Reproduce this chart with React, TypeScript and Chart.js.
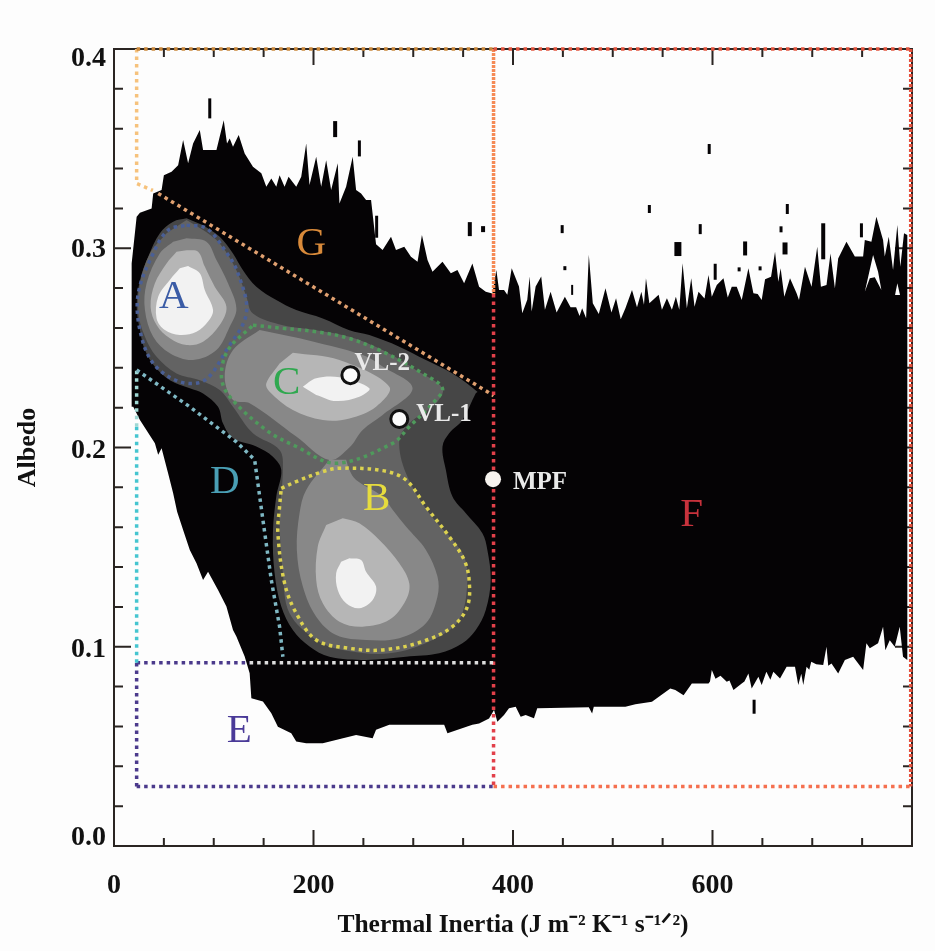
import React, { useEffect, useRef } from "react";
import { Chart, registerables } from "chart.js";

Chart.register(...registerables);

type P = [number, number];

const xTickStep = 50;
const yTickStep = 0.02;
const xTitle = "Thermal Inertia (J m⁻² K⁻¹ s⁻¹ᐟ²)";
const yTitle = "Albedo";

// Outer black envelope of the density plot (thermal inertia, albedo)
const envelopeTopLeft: P[] = [
  [17.7,.2205],[17.7,.2924],[22.7,.3158],[26,.3178],[37.7,.32],[39.3,.3275],[47.7,.3292],[50,.3367],[57.7,.3384],[64.3,.3417],
  [69.3,.3543],[74.3,.3426],[79.3,.3526],[86,.3593],[89.3,.3493],[102.7,.3493],[110,.3643],[113.3,.3526],[116,.3551],[119.3,.3509],
  [125,.3568],[131,.3476],[139.3,.3409],[147.7,.3376],[152.7,.3309],[157.7,.335],[162.7,.3309],[166,.3367],[171,.3309],[175,.3359],
  [182.7,.3309],[187.7,.3359],[192.7,.3526],[196,.3317],[202.7,.3459],[207.7,.3309],[212.7,.3442],[217.7,.3292],[224.3,.3426],[226,.3225],
  [232.7,.3309],[239.3,.3459],[242.7,.3292],[247.7,.3275],[252.7,.3242],[257.7,.3242],[262.7,.302],[269.3,.2991],[277.7,.3058],[282.7,.2991],
  [291,.3008],[297.7,.2957],[304.3,.2932],[308.7,.3066],[314.3,.2941],[319.3,.2882],[329.3,.2932],[337.7,.2874],[344.3,.2891],[351,.2824],
  [359.3,.2924],[366,.2807],[372.7,.2782],[379.3,.2773],
];
const envelopeTopMiddle: P[] = [
  [383.3,.2891],[386,.2791],[391,.2791],[394.3,.2766],[398.7,.29],[406,.2808],[409.3,.2674],[414.3,.2741],[416.7,.2858],[418.7,.2682],
  [422.7,.2808],[428.3,.2858],[432,.2691],[437.7,.2782],[443.7,.2677],[452,.2757],[457.7,.2704],[463.3,.2704],[466.7,.266],[469.3,.2699],
  [473.3,.2649],[476,.2967],[480,.2724],[486,.267],[492.7,.2799],[498.7,.2677],[503.3,.2749],[508,.2644],[512.7,.2699],[519.3,.2791],
  [524.3,.2704],[528.7,.2782],[531.3,.2716],[533.3,.2849],[536.7,.2724],[546,.2766],[549.3,.2691],[554.3,.2749],[559.3,.2691],[563.3,.2757],
  [566.7,.2691],[570,.2925],[574.3,.2699],[578.7,.2849],[582,.2707],
];
const envelopeTopRight: P[] = [
  [586,.2782],[592,.2748],[596,.2866],[599.3,.2757],[604.3,.2815],[611,.2849],[615.3,.2753],[619.3,.2807],[624.3,.2807],[629.3,.274],
  [636,.2899],[641,.2774],[645.3,.277],[649.3,.274],[652.7,.2844],[658.7,.2857],[662.7,.2983],[666,.2832],[668.3,.2899],[672,.2757],
  [677.7,.2849],[684.3,.2774],[686.7,.274],[692.7,.2907],[699.3,.2807],[705,.3008],[708.7,.2807],[714.3,.2815],[718.3,.2974],[722.7,.2799],
  [726,.2949],[734.3,.3033],[742.7,.2958],[751,.2958],[752.7,.3041],[759.3,.3033],[764.3,.3158],[771,.3041],[772.7,.2958],[776.7,.3058],
  [781,.2891],[785.3,.3117],[788.3,.2907],[792,.3075],[795.3,.3066],
];
const envelopeBottom: P[] = [
  [795.3,.0933],[791,.095],[787.7,.11],[782.7,.1],[777.7,.1033],[773.3,.0983],[771,.11],[766,.1017],[757.7,.0992],[754.3,.1017],
  [751,.0883],[741,.095],[732.7,.0933],[726,.0866],[719.3,.0916],[716,.0905],[714.3,.1],[711,.0908],[704,.0912],[699,.0925],
  [697,.0885],[694.3,.09],[691,.0808],[689,.0865],[686,.0808],[682.7,.09],[674.3,.09],[667.7,.0841],[661,.0875],[658,.0835],
  [654,.0875],[649.3,.0808],[646,.085],[639.3,.0791],[636,.0866],[632,.0825],[629.3,.0816],[621,.0783],[617,.083],[614.3,.0824],
  [608,.0855],[603,.084],[599.3,.0883],[597.5,.0825],[596,.0816],[579.3,.0816],[571,.0757],[562.7,.0783],[557.7,.0791],[539.3,.0724],
  [522.7,.0712],[512.7,.0699],[481,.0699],[479.3,.0665],[476,.0696],[424.3,.0691],[421,.0641],[412.7,.0657],[407.7,.0649],[402.7,.0699],
  [396,.0691],[391,.0657],[384.3,.0624],[381,.0682],[376,.064],[366,.0615],[359.3,.0608],[334.3,.0566],[331,.0608],[306,.0608],
  [276,.0608],[262.7,.0583],[259.3,.0541],[242.7,.0557],[209.3,.0516],[192.7,.0516],[182.7,.0524],[177.7,.0566],[164.3,.0599],[157.7,.0666],
  [149.3,.0725],[137.7,.0741],[136,.0867],[131,.0951],[122.7,.1051],[119.3,.1084],[112.7,.1202],[104.3,.1285],[94.3,.1377],[89.3,.1335],
  [82.7,.1419],[76,.1486],[69.3,.1586],[63.3,.1678],[59.3,.177],[54.3,.187],[47.7,.1996],[44.3,.1963],[41,.2021],[26,.2138],[19.3,.2205],
];
const whiteGapLarge: P[] = [[761,.2966],[752.7,.2782],[757.7,.2849],[762.7,.2854],[769.3,.279],[766,.2882]];
const whiteGapSmall: P[] = [[785.3,.2824],[783,.2765],[788,.2765]];

// Isolated specks above and below the envelope
const speckX = [96,221.7,246,263.3,356.7,370,449.3,452,459.3,536.7,587.7,596.7,565.3,632.7,626.7,647.7,668.7,675,672.7,711,749.3,602.7,641.7];
const speckY = [.3702,.3598,.3501,.3108,.3096,.3096,.3096,.29,.2791,.3197,.3096,.3498,.2996,.2999,.2894,.2899,.3095,.3197,.2999,.3035,.309,.2882,.0699];
const speckHalfLength = [10,8,8,11,7,3,4,2,5,4,5,5,7,7,2,2,3,5,6,18,7,8,7];
const speckThickness = [3,4,3,3,4,4,3,3,2,3,3,3,7,4,3,3,3,3,5,4,3,3,3];

// Density contours
const level1: P[] = [
  [72.7,.315],[59.3,.3133],[46,.3075],[34.3,.2957],[26,.284],[22.7,.2706],[26,.2589],[31,.2489],[41,.2405],[56,.2338],
  [76,.2297],[89.3,.2271],[104.3,.2204],[109.3,.212],[119.3,.2046],[142.7,.2005],[159.3,.1954],[167.7,.1887],[162.7,.1754],[159.3,.157],
  [161,.1369],[167.7,.1202],[179.3,.1084],[196,.1001],[216,.095],[252.7,.0934],[292.7,.095],[326,.0967],[349.3,.1017],[362.7,.1084],
  [372.7,.1185],[377.7,.1335],[374.3,.1486],[369.3,.157],[352.7,.167],[339.3,.1754],[332.7,.1887],[329.3,.2004],[336,.2071],[349.3,.2138],
  [362.7,.2272],[364.3,.228],[339.3,.2372],[312.7,.2439],[286,.2506],[256,.2564],[236,.2589],[209.3,.2648],[182.7,.269],[162.7,.274],
  [142.7,.2807],[129.3,.289],[119.3,.2974],[106,.3058],[89.3,.3116],
];
const level2: P[] = [
  [72.7,.3142],[89.3,.3091],[106,.3024],[122.7,.289],[132.7,.2757],[139.3,.2673],[169.3,.2614],[202.7,.2589],[236,.2556],[269.3,.2489],
  [302.7,.2389],[329.3,.2297],[322.7,.2221],[296,.2121],[286,.2038],[292.7,.1871],[316,.167],[349.3,.1469],[354.3,.1335],[346,.1135],
  [319.3,.1034],[276,.0967],[229.3,.0984],[202.7,.1034],[176,.1168],[169.3,.1369],[166,.1653],[169.3,.1887],[166,.1988],[139.3,.2071],
  [119.3,.2204],[106,.2288],[86,.2338],[62.7,.2372],[42.7,.2455],[31,.2556],[24.5,.2673],[26,.2824],[36,.2974],[52.7,.3075],
];
const level3A: P[] = [
  [72.7,.305],[92.7,.3033],[102.7,.2941],[114.3,.2824],[122.7,.2698],[116,.2606],[102.7,.2489],[79.3,.2439],[56,.2473],[39.3,.2556],
  [31,.269],[32.7,.2824],[46,.2975],[59.3,.3033],
];
const level3C: P[] = [
  [146,.259],[119.3,.2489],[111,.2355],[119.3,.2238],[136,.2222],[182.7,.2055],[216,.1937],[236,.2],[249.3,.2088],[269.3,.2163],
  [299.3,.2297],[269.3,.2406],[249.3,.2464],[186,.2548],
];
const level3B: P[] = [
  [216,.1938],[192.7,.1787],[186,.167],[183.3,.1486],[189.3,.1302],[202.7,.1151],[222.7,.1059],[252.7,.1034],[286,.1043],[312.7,.1118],
  [324.3,.1252],[324.3,.1352],[312.7,.1486],[292.7,.1603],[279.3,.1687],[269.3,.1754],[242.7,.1837],[236,.1887],[232.7,.1938],
];
const level4A: P[] = [
  [72.7,.299],[84.3,.2983],[91,.2908],[101,.2807],[112.7,.2707],[106,.2615],[89.3,.2531],[72.7,.2514],[56,.2548],[42.7,.2615],
  [36.7,.2707],[41,.2824],[52.7,.2924],[62.7,.2983],
];
const level4C: P[] = [
  [179.3,.2476],[226,.2439],[276,.2305],[262.7,.2205],[236,.2146],[209.3,.2138],[179.3,.2188],[156,.228],[152.7,.2322],[166,.2422],
];
const level4B: P[] = [
  [229.3,.1645],[246,.162],[266,.1536],[286,.1419],[296,.1319],[292.7,.1235],[276,.1135],[249.3,.1101],[226,.1126],[209.3,.1218],
  [202.7,.1335],[204.3,.1503],[212.7,.1611],
];
const level5A: P[] = [
  [74.3,.2911],[86,.2874],[91,.2791],[99.3,.269],[94.3,.2632],[82.7,.2581],[66,.2565],[51,.259],[42.7,.2648],[44.3,.2757],[56,.2841],[66,.2899],
];
const level5C: P[] = [
  [189.3,.2305],[202.7,.2347],[226,.2352],[256,.2297],[246,.2255],[222.7,.2233],[202.7,.2264],
];
const level5B: P[] = [
  [236,.1444],[247.7,.1436],[252.7,.1377],[262.7,.1302],[259.3,.1235],[246,.1193],[232.7,.1218],[224.3,.1285],[222.7,.1369],[227.7,.1427],
];

// Dotted unit boundaries
const boxG: P[] = [[22.7,.4],[22.7,.3325],[39,.329]];
const topG: P[] = [[22.7,.4],[380.5,.4]];
const diagonalG: P[] = [[44.3,.3275],[374.3,.228],[380.5,.226]];
const upperF: P[] = [[380.5,.4],[380.5,.277]];
const lowerF: P[] = [[380.5,.277],[380.5,.0298]];
const topF: P[] = [[380.5,.4],[798.7,.4]];
const rightF: P[] = [[798.7,.4],[798.7,.0298]];
const bottomF: P[] = [[380.5,.0298],[798.7,.0298]];
const leftE: P[] = [[22.7,.0298],[22.7,.092]];
const bottomE: P[] = [[22.7,.0298],[380.5,.0298]];
const topEOutside: P[] = [[22.7,.092],[136,.092]];
const topEInside: P[] = [[136,.092],[380.5,.092]];
const leftD: P[] = [[22.7,.092],[22.7,.2104]];
const leftDInside: P[] = [[22.7,.2104],[22.7,.2389]];
const edgeD: P[] = [[22.7,.2389],[76,.2204],[122.7,.2028],[141,.1938],[149.3,.1636],[157.7,.1335],[166,.1101],[169.3,.095]];
const ringA: P[] = [
  [72.7,.3116],[92.7,.31],[111,.2991],[124.3,.2874],[132.7,.2673],[112.7,.2489],[91,.2338],[66,.233],[39.3,.2422],[26,.2589],
  [24.3,.2773],[39.3,.2974],[54.3,.3091],[72.7,.3116],
];
const ringC: P[] = [
  [139.3,.2614],[169.3,.2598],[202.7,.2581],[236,.2547],[269.3,.2481],[309.3,.2372],[329.3,.2297],[319.3,.2221],[296,.2104],[279.3,.2021],
  [222.7,.1921],[182.7,.2005],[152.7,.2087],[116,.2255],[107.7,.2355],[114.3,.2489],[139.3,.2614],
];
const ringB: P[] = [
  [167.7,.1795],[182.7,.1829],[209.3,.1879],[226,.1896],[269.3,.1884],[292.7,.1837],[312.7,.1703],[336,.1553],[351,.1436],[356,.1335],
  [354.3,.1202],[339.3,.1101],[309.3,.1026],[269.3,.0984],[236,.0992],[202.7,.1034],[182.7,.1168],[171,.1319],[164.3,.157],[166,.1703],[167.7,.1795],
];

// Lander sites and labels
const siteNames = ["VL-2", "VL-1", "MPF"];
const siteX = [237, 286, 380];
const siteY = [.2363, .2143, .1841];
const siteLabelX = [241, 303, 400];
const siteLabelY = [.2419, .2163, .1822];
const unitNames = ["G", "A", "C", "B", "D", "E", "F"];
const unitX = [197.7, 60, 173, 263.3, 111, 125.5, 579];
const unitY = [.3022, .2755, .2325, .174, .1825, .0575, .1661];
const unitColors = ["#d98a3a", "#3b5ca6", "#2fa84f", "#e6dc3e", "#4a9fb5", "#4a3a98", "#c8323c"];

const FONT = "'Liberation Serif', serif";
const AXIS = "#2a2522";

const C1 = "#464646", C2 = "#636363", C3 = "#888888", C4 = "#b6b6b6", C5 = "#f2f2f2";
const fills: { pts: P[]; color: string; smooth?: boolean }[] = [
  { pts: [...envelopeTopLeft, ...envelopeTopMiddle, ...envelopeTopRight, ...envelopeBottom], color: "#050305" },
  { pts: whiteGapLarge, color: "#fdfdfd" },
  { pts: whiteGapSmall, color: "#fdfdfd" },
  { pts: level1, color: C1, smooth: true },
  { pts: level2, color: C2, smooth: true },
  { pts: level3A, color: C3, smooth: true }, { pts: level3C, color: C3, smooth: true }, { pts: level3B, color: C3, smooth: true },
  { pts: level4A, color: C4, smooth: true }, { pts: level4C, color: C4, smooth: true }, { pts: level4B, color: C4, smooth: true },
  { pts: level5A, color: C5, smooth: true }, { pts: level5C, color: C5, smooth: true }, { pts: level5B, color: C5, smooth: true },
];
const dotted: { pts: P[]; color: string; dash?: number[]; smooth?: boolean }[] = [
  { pts: boxG, color: "#f6c27c" },
  { pts: topG, color: "#c9873a" },
  { pts: diagonalG, color: "#e0a070" },
  { pts: upperF, color: "#f58a55", dash: [3, 1] },
  { pts: lowerF, color: "#e2404a" },
  { pts: topF, color: "#e2553f" },
  { pts: rightF, color: "#e6503c", dash: [3, 2] },
  { pts: bottomF, color: "#f5704f" },
  { pts: leftE, color: "#4b3a8c" },
  { pts: bottomE, color: "#4b3a8c" },
  { pts: topEOutside, color: "#4b3a8c" },
  { pts: topEInside, color: "#dddddd" },
  { pts: leftD, color: "#45c5d0" },
  { pts: leftDInside, color: "#9fd8d4" },
  { pts: edgeD, color: "#7fb8c4" },
  { pts: ringA, color: "#4a5f96", smooth: true },
  { pts: ringC, color: "#4f9a5c", smooth: true },
  { pts: ringB, color: "#dcd250", smooth: true },
];

const toXY = (pts: P[]) => pts.map(([x, y]) => ({ x, y }));

const labelShift: Record<string, number> = { "0.4": 10, "0.3": 2, "0.2": 3, "0.1": 3, "0.0": -8 };

const framePlugin = {
  id: "frame",
  beforeDraw(chart: any) {
    for (const it of chart.scales.y.getLabelItems()) {
      if (!it.shifted) {
        it.options.translation[1] += labelShift[it.label] || 0;
        it.shifted = true;
      }
    }
  },
  beforeDatasetsDraw(chart: any) {
    const { ctx, chartArea: a, scales } = chart;
    ctx.save();
    ctx.strokeStyle = AXIS;
    ctx.lineWidth = 2;
    ctx.strokeRect(a.left, a.top, a.right - a.left, a.bottom - a.top);
    ctx.beginPath();
    for (const t of scales.x.ticks) {
      const px = scales.x.getPixelForValue(t.value);
      const len = t.value % 200 === 0 ? 16 : 8;
      if (px <= a.left + 1 || px >= a.right - 1) continue;
      ctx.moveTo(px, a.bottom); ctx.lineTo(px, a.bottom - len);
      ctx.moveTo(px, a.top); ctx.lineTo(px, a.top + len);
    }
    for (const t of scales.y.ticks) {
      const py = scales.y.getPixelForValue(t.value);
      const len = Math.round(t.value * 100) % 10 === 0 ? 17 : 9;
      if (py <= a.top + 1 || py >= a.bottom - 1) continue;
      ctx.moveTo(a.left, py); ctx.lineTo(a.left + len, py);
      ctx.moveTo(a.right, py); ctx.lineTo(a.right - len, py);
    }
    ctx.stroke();
    ctx.restore();
  },
  afterDatasetsDraw(chart: any) {
    const { ctx, scales } = chart;
    ctx.save();
    ctx.textBaseline = "middle";
    ctx.textAlign = "center";
    ctx.font = `41px ${FONT}`;
    unitNames.forEach((n, i) => {
      ctx.fillStyle = unitColors[i];
      ctx.fillText(n, scales.x.getPixelForValue(unitX[i]), scales.y.getPixelForValue(unitY[i]));
    });
    ctx.font = `bold 25px ${FONT}`;
    ctx.fillStyle = "#e9e9e9";
    ctx.textAlign = "left";
    siteNames.forEach((n, i) => {
      ctx.fillText(n, scales.x.getPixelForValue(siteLabelX[i]), scales.y.getPixelForValue(siteLabelY[i]));
    });
    ctx.restore();
  },
};

export default function App() {
  const ref = useRef<HTMLCanvasElement>(null);
  useEffect(() => {
    document.body.style.margin = "0";
    document.body.style.background = "#fdfdfd";
    const paint: any[] = [
      ...fills.map((f) => ({
        type: "scatter", data: toXY(f.pts), showLine: true, fill: "shape", backgroundColor: f.color,
        borderWidth: 0, pointRadius: 0, tension: f.smooth ? 0.35 : 0, clip: false,
      })),
      {
        type: "scatter", data: speckX.map((x, i) => ({ x, y: speckY[i] })), showLine: false,
        pointStyle: "line", pointRotation: 90, pointBorderColor: "#050305",
        pointBorderWidth: (c: any) => speckThickness[c.dataIndex],
        pointRadius: (c: any) => speckHalfLength[c.dataIndex], clip: false,
      },
      ...dotted.map((d) => ({
        type: "scatter", data: toXY(d.pts), showLine: true, fill: false, borderColor: d.color,
        borderWidth: 3.5, borderDash: d.dash || [3.5, 4], pointRadius: 0, tension: d.smooth ? 0.35 : 0, clip: false,
      })),
      {
        type: "scatter", data: siteX.slice(0, 2).map((x, i) => ({ x, y: siteY[i] })), showLine: false,
        pointBackgroundColor: "#fbfbfb", pointBorderColor: "#111", pointBorderWidth: 3, pointRadius: 8.5, clip: false,
      },
      {
        type: "scatter", data: [{ x: siteX[2], y: siteY[2] }], showLine: false,
        pointBackgroundColor: "#f6f2ee", pointBorderColor: "#f6f2ee", pointBorderWidth: 0, pointRadius: 8, clip: false,
      },
    ];
    paint.forEach((d, i) => (d.order = paint.length - i));
    const chart = new Chart(ref.current as HTMLCanvasElement, {
      type: "scatter",
      data: { datasets: paint },
      plugins: [framePlugin],
      options: {
        responsive: false,
        animation: false,
        devicePixelRatio: 1,
        layout: { padding: { top: 49, right: 22, left: 0, bottom: 0 } },
        plugins: { legend: { display: false }, tooltip: { enabled: false } },
        scales: {
          x: {
            type: "linear", min: 0, max: 800,
            afterFit: (s: any) => { s.height = 105; },
            grid: { drawOnChartArea: false, drawTicks: false },
            border: { display: false },
            ticks: {
              stepSize: xTickStep, autoSkip: false, maxTicksLimit: 100, maxRotation: 0, padding: 23,
              color: "#111", font: { family: FONT, size: 28, weight: "bold" },
              callback: (v: any) => (v % 200 === 0 && v < 800 ? String(v) : ""),
            },
            title: {
              display: true, text: xTitle, color: "#111",
              font: { family: FONT, size: 25.5, weight: "bold" }, padding: { top: 0, bottom: 10 },
            },
          },
          y: {
            type: "linear", min: 0, max: 0.4,
            afterFit: (s: any) => { s.width = 114; },
            grid: { drawOnChartArea: false, drawTicks: false },
            border: { display: false },
            ticks: {
              stepSize: yTickStep, autoSkip: false, maxTicksLimit: 100, padding: 8,
              color: "#111", font: { family: FONT, size: 28, weight: "bold" },
              callback: (v: any) => (Math.round(v * 100) % 10 === 0 ? Number(v).toFixed(1) : ""),
            },
            title: {
              display: true, text: yTitle, color: "#111",
              font: { family: FONT, size: 26, weight: "bold" }, padding: { top: 13, bottom: 0 },
            },
          },
        },
      } as any,
    } as any);
    return () => chart.destroy();
  }, []);
  return <canvas ref={ref} width={935} height={951} style={{ display: "block", filter: "blur(0.6px)" }} />;
}
